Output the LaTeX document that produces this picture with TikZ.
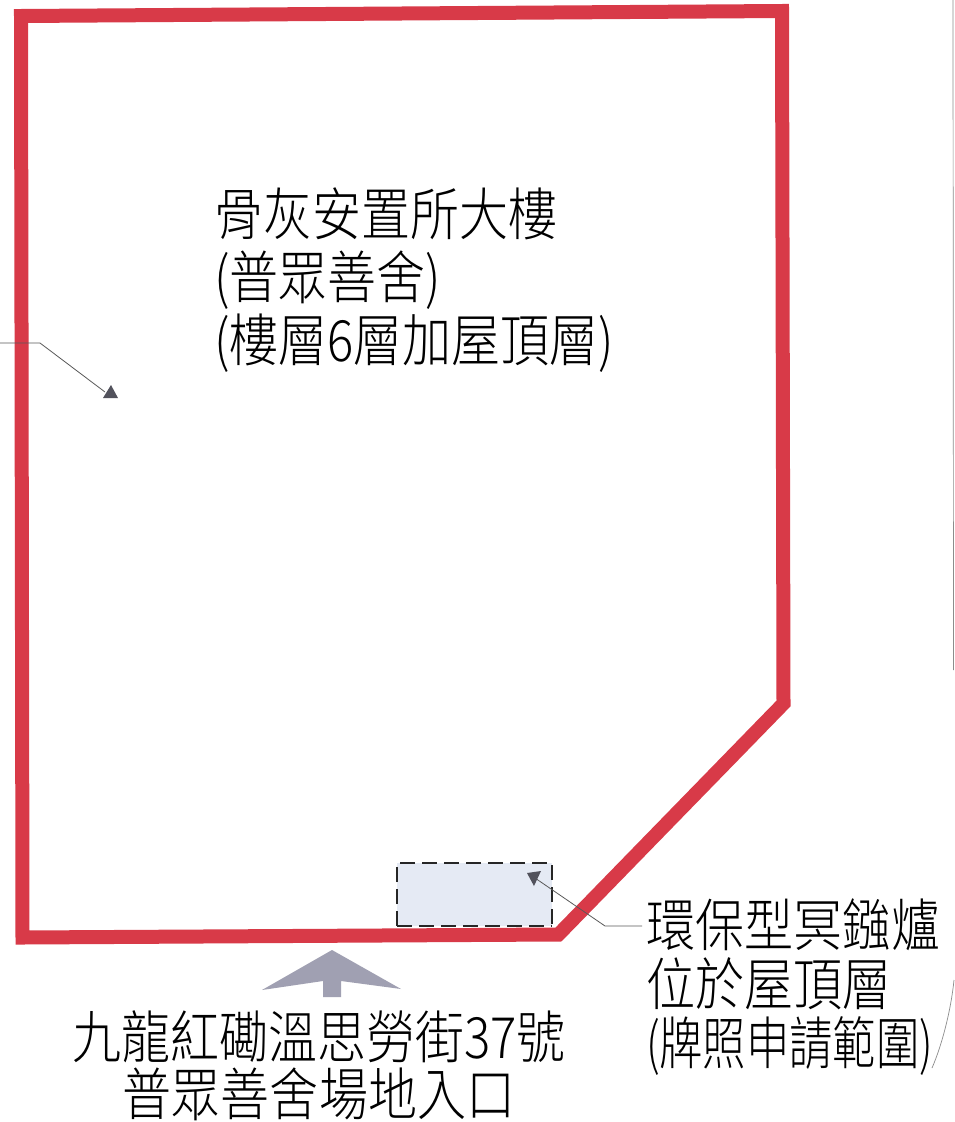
\documentclass[tikz,border=0pt]{standalone}
\usepackage{fontspec}
\newfontfamily\cjk[FakeStretch=0.86]{Noto Sans CJK TC Light}
\newfontfamily\cjknarrow[FakeStretch=0.76]{Noto Sans CJK TC Light}
\newcommand\labelfont[1]{\cjk\fontsize{57}{#1}\selectfont}
\definecolor{wallred}{RGB}{216,58,72}
\definecolor{arrowgrey}{RGB}{160,160,178}
\definecolor{tipgrey}{RGB}{82,82,92}
\definecolor{roomblue}{RGB}{229,234,244}
\tikzset{
  x=1pt,y=-1pt,
  bigtext/.style={inner sep=0pt,outer sep=0pt,text=black,align=#1},
  leader/.style={draw=black!65,line width=0.8pt},
  tipmark/.style={fill=tipgrey,draw=none},
  edgeline/.style={draw=black!45,line width=0.7pt},
}
\begin{document}
\begin{tikzpicture}
\useasboundingbox (0,0) rectangle (955,1122);
\fill[white] (0,0) rectangle (955,1122);
% site boundary
\draw[wallred,line width=14pt,miter limit=10]
  (21,16) -- (782,11) -- (783.5,703.5) -- (558.5,934.5) -- (22.5,937.5) -- cycle;
% licence area
\fill[roomblue] (397,863) rectangle (552,926);
\draw[black!85,line width=1.1pt,dash pattern=on 15pt off 7pt] (397,926) -- (397,863) -- (552,863) -- (552,926);
\draw[black!85,line width=1.1pt,dash pattern=on 15pt off 7pt] (397,926) -- (552,926);
% entrance arrow
\fill[arrowgrey] (332,950) -- (401,989) -- (341,981) -- (341,997) -- (323,997) -- (323,981) -- (262,990) -- cycle;
% labels
\node[bigtext=left,anchor=north west,font=\labelfont{63}] (building) at (214,188) {骨灰安置所大樓\\(普眾善舍)\\(樓層6層加屋頂層)};
\node[bigtext=left,anchor=north west,font=\labelfont{59}] (furnace) at (646,899) {環保型冥鏹爐\\位於屋頂層\\{\cjknarrow (牌照申請範圍)}};
\node[bigtext=center,anchor=north,font=\labelfont{57}] (entrance) at (319,1011) {九龍紅磡溫思勞街37號\\普眾善舍場地入口};
% leaders
\coordinate (bl0) at (0,343);
\coordinate (bl1) at (40,343);
\coordinate (bl2) at (105,392);
\draw[leader] (bl0) -- (bl1) -- (bl2);
\fill[tipmark] (111,385) -- (118,398) -- (103,398) -- cycle;
\coordinate (fl0) at (642,926);
\coordinate (fl1) at (605,926);
\coordinate (fl2) at (535,878);
\draw[leader] (fl0) -- (fl1) -- (fl2);
\fill[tipmark] (527,873) -- (541,871) -- (534,886) -- cycle;
% page edge
\coordinate (pe0) at (953,0);
\coordinate (pe1) at (953.5,670);
\coordinate (pe2) at (954,980);
\coordinate (pe3) at (932,1068);
\draw[edgeline] (pe0) -- (pe1);
\draw[edgeline] (pe2) .. controls (951,1010) and (942,1045) .. (pe3);
\end{tikzpicture}
\end{document}
